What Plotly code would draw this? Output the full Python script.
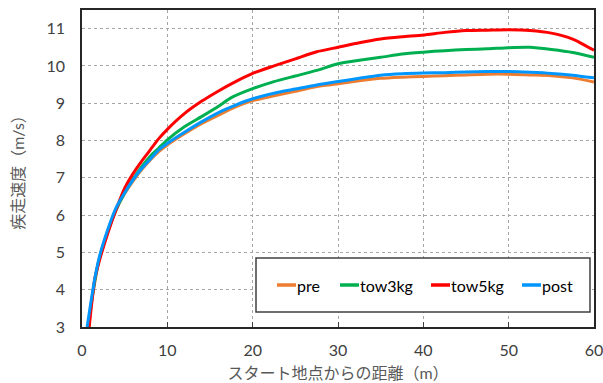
import plotly.graph_objects as go

# ---- data ----
pre_x = [0.8, 1.0, 1.5, 2, 3, 4, 5, 6, 7, 8, 9, 10, 12, 14, 16, 18, 20, 22.5, 25, 27.5, 30, 32.5, 35, 37.5, 40, 42.5, 45, 47.5, 50, 52.5, 55, 57.5, 60]
pre_y = [3.0, 3.45, 4.2, 4.8, 5.55, 6.15, 6.58, 6.92, 7.22, 7.48, 7.7, 7.88, 8.18, 8.45, 8.68, 8.9, 9.07, 9.2, 9.32, 9.45, 9.52, 9.6, 9.67, 9.7, 9.72, 9.74, 9.76, 9.78, 9.78, 9.76, 9.74, 9.68, 9.57]

tow3_x = [0.7, 1.0, 1.5, 2, 3, 4, 5, 6, 7, 8, 9, 10, 12, 14, 16, 17.5, 20, 22.5, 25, 27.5, 30, 32.5, 35, 37.5, 40, 42.5, 45, 47.5, 50, 52.5, 55, 57.5, 60]
tow3_y = [3.0, 3.5, 4.25, 4.8, 5.55, 6.15, 6.6, 6.97, 7.3, 7.58, 7.8, 8.02, 8.37, 8.64, 8.92, 9.15, 9.39, 9.58, 9.73, 9.88, 10.06, 10.15, 10.23, 10.32, 10.37, 10.41, 10.44, 10.46, 10.49, 10.5, 10.44, 10.36, 10.23]

tow5_x = [0.85, 1.0, 1.5, 2, 3, 4, 5, 6, 7, 8, 9, 10, 12, 14, 16, 18, 20, 22.5, 25, 27.5, 30, 32.5, 35, 37.5, 40, 42.5, 45, 47.5, 50, 52.5, 55, 57.5, 60]
tow5_y = [3.0, 3.35, 4.3, 4.75, 5.5, 6.15, 6.72, 7.12, 7.45, 7.75, 8.05, 8.3, 8.72, 9.05, 9.33, 9.58, 9.8, 10.0, 10.19, 10.38, 10.5, 10.62, 10.72, 10.78, 10.83, 10.9, 10.95, 10.96, 10.97, 10.95, 10.88, 10.72, 10.42]

post_x = [0.6, 1.0, 1.5, 2, 3, 4, 5, 6, 7, 8, 9, 10, 12, 14, 16, 18, 20, 22.5, 25, 27.5, 30, 32.5, 35, 37.5, 40, 42.5, 45, 47.5, 50, 52.5, 55, 57.5, 60]
post_y = [3.0, 3.6, 4.3, 4.85, 5.6, 6.2, 6.6, 6.95, 7.25, 7.5, 7.75, 7.92, 8.22, 8.5, 8.75, 8.95, 9.12, 9.27, 9.38, 9.49, 9.58, 9.67, 9.75, 9.79, 9.81, 9.82, 9.84, 9.85, 9.85, 9.83, 9.8, 9.75, 9.68]

series_names = ["pre", "tow3kg", "tow5kg", "post"]
series_x = [pre_x, tow3_x, tow5_x, post_x]
series_y = [pre_y, tow3_y, tow5_y, post_y]
series_colors = ["#ED7D31", "#00B050", "#FF0000", "#0096FF"]

x_ticks = [0, 10, 20, 30, 40, 50, 60]
y_ticks = [3, 4, 5, 6, 7, 8, 9, 10, 11]

FONT = "Lato, 'Noto Sans CJK JP', sans-serif"

# plot-area geometry (pixels) used to place the hand-drawn legend box
W, H = 603, 383
L, R, T, B = 82, 9, 10, 56
PW, PH = W - L - R, H - T - B


def px_to_paper_x(px):
    return (px - L) / PW


def px_to_paper_y(py):
    return (H - B - py) / PH


fig = go.Figure()
for name, xs, ys, col in zip(series_names, series_x, series_y, series_colors):
    fig.add_trace(go.Scatter(x=xs, y=ys, name=name, mode="lines", showlegend=False,
                             line=dict(color=col, width=3, shape="spline", smoothing=0.6)))

# legend box + entries
shapes = [dict(type="rect", xref="paper", yref="paper",
               x0=px_to_paper_x(256), x1=px_to_paper_x(590),
               y0=px_to_paper_y(312), y1=px_to_paper_y(258),
               fillcolor="white", line=dict(color="#404040", width=1.5), layer="above")]
annotations = []
legend_line_starts = [277, 340, 431, 522]
ly = px_to_paper_y(285)
for name, col, x0 in zip(series_names, series_colors, legend_line_starts):
    shapes.append(dict(type="line", xref="paper", yref="paper",
                       x0=px_to_paper_x(x0), x1=px_to_paper_x(x0 + 19), y0=ly, y1=ly,
                       line=dict(color=col, width=3.5), layer="above"))
    annotations.append(dict(xref="paper", yref="paper", x=px_to_paper_x(x0 + 18), y=ly,
                            xanchor="left", yanchor="middle", text=name, showarrow=False,
                            font=dict(size=16, color="#000000", family=FONT)))

fig.update_layout(
    width=W, height=H,
    margin=dict(l=L, r=R, t=T, b=B),
    paper_bgcolor="white", plot_bgcolor="white",
    font=dict(family=FONT, size=15, color="#404040"),
    showlegend=False,
    shapes=shapes,
    annotations=annotations,
)
fig.update_xaxes(range=[0, 60], tickvals=x_ticks, ticks="inside", ticklen=5, tickcolor="#404040",
                 showline=True, linecolor="#262626", linewidth=1.5, mirror=True,
                 showgrid=True, gridcolor="#A6A6A6", griddash="dot", gridwidth=1,
                 zeroline=False, ticklabelstandoff=8, automargin=False,
                 ticklabeloverflow="allow",
                 tickfont=dict(size=16),
                 title=dict(text="スタート地点からの距離（m）", font=dict(size=16, color="#595959"), standoff=10))
fig.update_yaxes(range=[3, 11.5], tickvals=y_ticks, ticks="",
                 showline=True, linecolor="#262626", linewidth=1.5, mirror=True,
                 showgrid=True, gridcolor="#A6A6A6", griddash="dot", gridwidth=1,
                 zeroline=False, ticklabelstandoff=12, automargin=False,
                 ticklabeloverflow="allow",
                 tickfont=dict(size=16),
                 title=dict(text="疾走速度（m/s）", font=dict(size=16, color="#595959"), standoff=18))

# remove the browser's default 8px page margin so the figure sits at the window origin
fig.write_html("out.html", config={"displayModeBar": False},
               post_script="document.body.style.margin='0';")
